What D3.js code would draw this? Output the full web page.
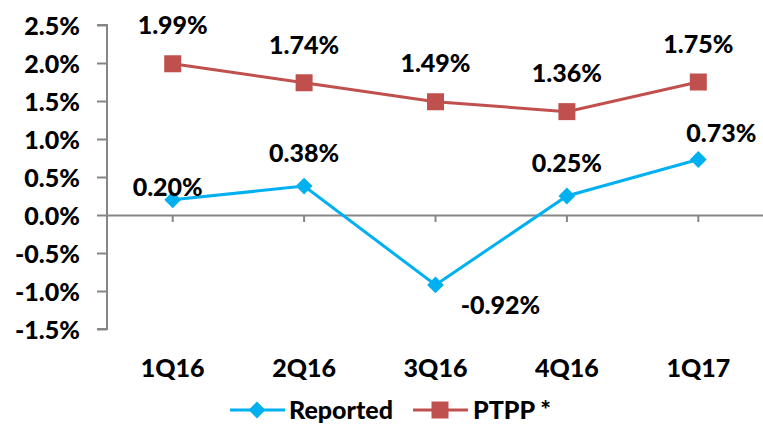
<!DOCTYPE html>
<html>
<head>
<meta charset="utf-8">
<script src="https://cdn.jsdelivr.net/npm/d3@7/dist/d3.min.js"></script>
<style>
  body { margin: 0; background: #fff; }
  text { font-family: Lato, "Open Sans", sans-serif; font-weight: 900; fill: #000; }
</style>
</head>
<body>
<div id="chart"></div>
<script>
var categories = ["1Q16", "2Q16", "3Q16", "4Q16", "1Q17"];
var reported = [0.20, 0.38, -0.92, 0.25, 0.73];
var ptpp = [1.99, 1.74, 1.49, 1.36, 1.75];
var yTicks = [-1.5, -1.0, -0.5, 0.0, 0.5, 1.0, 1.5, 2.0, 2.5];

// hand placed data label offsets (dx, dy) like in the original
var reportedLabelShift = [[-5, -13], [0, -33], [65, 20], [0, -33], [23, -27]];
var ptppLabelShift = [[0, -39], [0, -38], [0, -39], [0, -39], [0, -38]];

var width = 763, height = 424;
var blue = "#00B0F0", red = "#C0504D", axisGrey = "#868686";
var fontSize = "25px";

var svg = d3.select("#chart").append("svg")
    .attr("width", width)
    .attr("height", height);

var x = d3.scaleBand()
    .domain(categories)
    .range([107, 764]);

var y = d3.scaleLinear()
    .domain([-1.5, 2.5])
    .range([329, 25]);

function cx(d, i) { return x(categories[i]) + x.bandwidth() / 2; }

// y axis
var yAxis = svg.append("g")
    .attr("transform", "translate(107,0)")
    .call(d3.axisLeft(y).tickValues(yTicks).tickSize(10).tickPadding(17)
        .tickFormat(function (d) { return d.toFixed(1) + "%"; }));
yAxis.selectAll("path, line").attr("stroke", axisGrey).attr("stroke-width", 2);
yAxis.select(".domain").attr("d", "M-10,25H0V329H-10");
yAxis.selectAll("text").style("font-size", fontSize).attr("dy", "0.36em");

// x axis at zero
var xAxis = svg.append("g")
    .attr("transform", "translate(0," + y(0) + ")")
    .call(d3.axisBottom(x).tickSize(7).tickSizeOuter(0).tickFormat(""));
xAxis.selectAll("path, line").attr("stroke", axisGrey).attr("stroke-width", 2);

// category labels at the bottom
svg.append("g").selectAll("text")
    .data(categories)
    .enter().append("text")
    .attr("x", function (d) { return x(d) + x.bandwidth() / 2; })
    .attr("y", 377)
    .attr("text-anchor", "middle")
    .style("font-size", fontSize)
    .text(function (d) { return d; });

var line = d3.line()
    .x(cx)
    .y(function (d) { return y(d); });

// PTPP series
svg.append("path")
    .datum(ptpp)
    .attr("fill", "none")
    .attr("stroke", red)
    .attr("stroke-width", 3)
    .attr("d", line);

svg.append("g").selectAll("rect")
    .data(ptpp)
    .enter().append("rect")
    .attr("x", function (d, i) { return cx(d, i) - 8.5; })
    .attr("y", function (d) { return y(d) - 8.5; })
    .attr("width", 17)
    .attr("height", 17)
    .attr("fill", red);

// Reported series
svg.append("path")
    .datum(reported)
    .attr("fill", "none")
    .attr("stroke", blue)
    .attr("stroke-width", 3)
    .attr("d", line);

var diamond = d3.symbol().type(d3.symbolDiamond2).size(180);

svg.append("g").selectAll("path")
    .data(reported)
    .enter().append("path")
    .attr("d", diamond)
    .attr("transform", function (d, i) { return "translate(" + cx(d, i) + "," + y(d) + ")"; })
    .attr("fill", blue);

// data labels
function labels(data, shift) {
    svg.append("g").selectAll("text")
        .data(data)
        .enter().append("text")
        .attr("x", function (d, i) { return cx(d, i) + shift[i][0]; })
        .attr("y", function (d, i) { return y(d) + shift[i][1]; })
        .attr("dy", "0.36em")
        .attr("text-anchor", "middle")
        .style("font-size", fontSize)
        .text(function (d) { return d.toFixed(2) + "%"; });
}
labels(ptpp, ptppLabelShift);
labels(reported, reportedLabelShift);

// legend
var legend = svg.append("g").attr("transform", "translate(0,410)");
legend.append("line").attr("x1", 230).attr("x2", 285).attr("stroke", blue).attr("stroke-width", 3);
legend.append("path").attr("d", diamond).attr("transform", "translate(257,0)").attr("fill", blue);
legend.append("text").attr("x", 289).attr("dy", "0.36em").style("font-size", fontSize).text("Reported");
legend.append("line").attr("x1", 413).attr("x2", 468).attr("stroke", red).attr("stroke-width", 3);
legend.append("rect").attr("x", 431.5).attr("y", -8.5).attr("width", 17).attr("height", 17).attr("fill", red);
legend.append("text").attr("x", 473).attr("dy", "0.36em").style("font-size", fontSize).text("PTPP *");
</script>
</body>
</html>
